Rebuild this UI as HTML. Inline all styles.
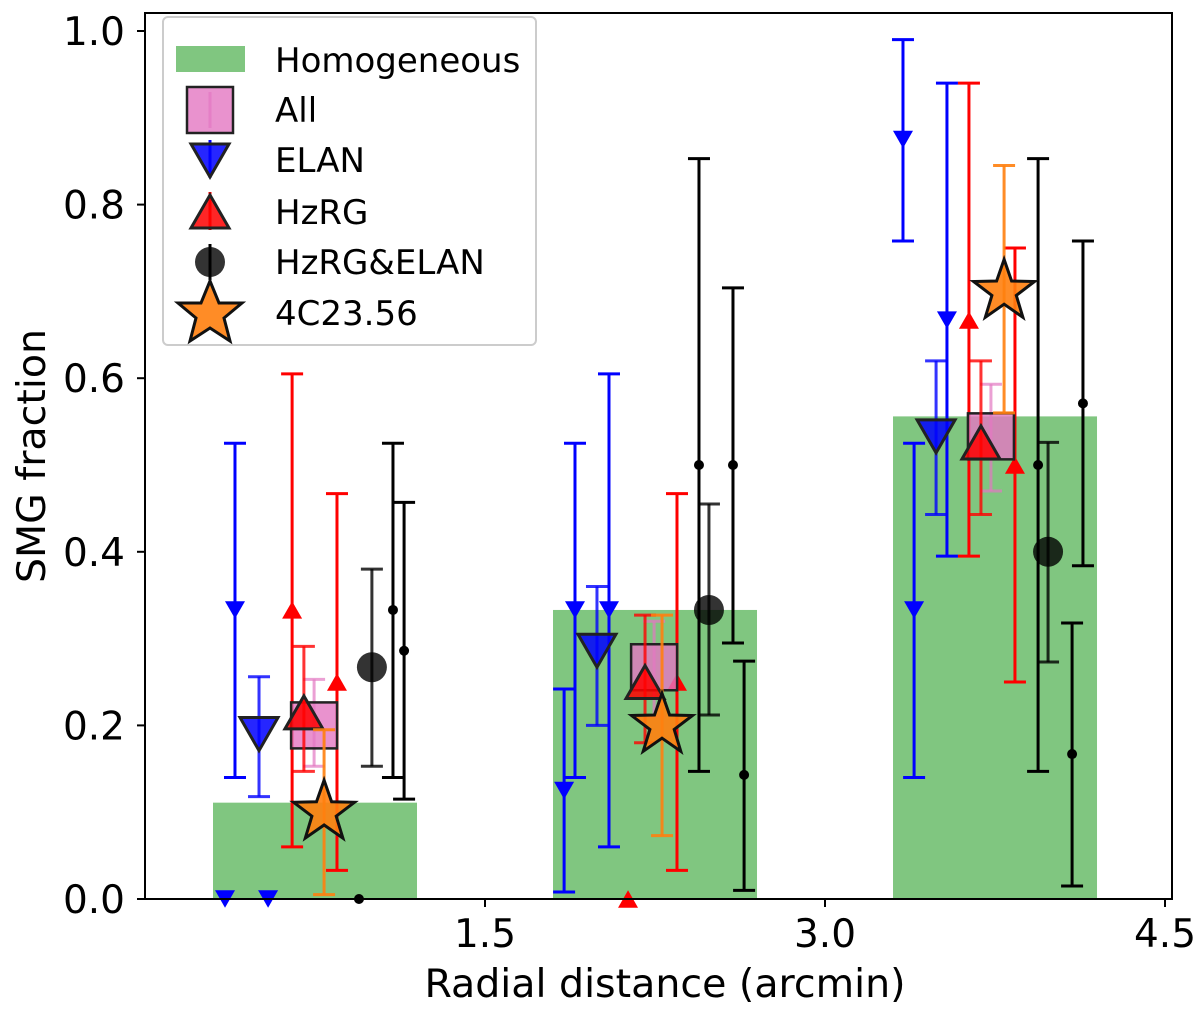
<!DOCTYPE html>
<html><head><meta charset="utf-8"><style>
body{margin:0;background:#fff}
svg{font-family:"DejaVu Sans","Liberation Sans",sans-serif}
</style></head><body>
<svg id="chart" width="1200" height="1014" viewBox="0 0 1200 1014"></svg>
<script>
// ---- data ----
const barCenters=[0.75,2.25,3.75];
const barHeights=[0.111,0.333,0.556];
const barWidth=0.9;
const elanX=[0.353,0.397,0.543,1.849,1.897,2.047,3.344,3.393,3.538];
const elanY=[0,0.333,0,0.125,0.333,0.333,0.875,0.333,0.667];
const elanLo=[null,0.14,null,0.008,0.14,0.06,0.758,0.14,0.395];
const elanHi=[null,0.525,null,0.242,0.525,0.605,0.99,0.525,0.94];
const hzrgX=[0.649,0.847,2.131,2.347,3.635,3.838];
const hzrgY=[0.333,0.25,0,0.25,0.667,0.5];
const hzrgLo=[0.06,0.033,null,0.033,0.395,0.25];
const hzrgHi=[0.605,0.467,null,0.467,0.94,0.75];
const bothX=[0.944,1.094,1.143,2.444,2.594,2.643,3.940,4.090,4.138];
const bothY=[0,0.333,0.286,0.5,0.5,0.143,0.5,0.167,0.571];
const bothLo=[null,0.14,0.115,0.147,0.295,0.01,0.147,0.015,0.384];
const bothHi=[null,0.525,0.457,0.853,0.704,0.274,0.853,0.318,0.758];
const elanAvgX=[0.503,1.994,3.490], elanAvgY=[0.19,0.286,0.533], elanAvgLo=[0.118,0.2,0.443], elanAvgHi=[0.256,0.36,0.62];
const hzrgAvgX=[0.701,2.206,3.688], hzrgAvgY=[0.215,0.25,0.526], hzrgAvgLo=[0.147,0.18,0.443], hzrgAvgHi=[0.291,0.327,0.62];
const allX=[0.746,2.246,3.732], allY=[0.2,0.267,0.533], allLo=[0.153,0.21,0.47], allHi=[0.253,0.32,0.593];
const bothAvgX=[1.001,2.488,3.984], bothAvgY=[0.267,0.333,0.4], bothAvgLo=[0.153,0.212,0.273], bothAvgHi=[0.38,0.455,0.526];
const starX=[0.790,2.281,3.790], starY=[0.1,0.2,0.7], starLo=[0.005,0.073,0.56], starHi=[0.195,0.327,0.845];
const xTicks=[1.5,3.0,4.5], xTickLabels=["1.5","3.0","4.5"];
const yTicks=[0,0.2,0.4,0.6,0.8,1.0], yTickLabels=["0.0","0.2","0.4","0.6","0.8","1.0"];

// ---- scales ----
const L=145,R=1172,T=13,B=899;
const sx=v=>L+v*226.67;
const sy=v=>B-v*868;
const svg=document.getElementById('chart');
const NS='http://www.w3.org/2000/svg';
function mk(tag,attrs,parent){const e=document.createElementNS(NS,tag);for(const k in attrs)e.setAttribute(k,attrs[k]);(parent||svg).appendChild(e);return e;}

const plot=mk('g',{});



barCenters.forEach((c,i)=>{
  const r=mk('rect',{x:sx(c-barWidth/2),y:sy(barHeights[i]),width:sx(c+barWidth/2)-sx(c-barWidth/2),height:sy(0)-sy(barHeights[i]),fill:'#2ca02c','fill-opacity':0.6},plot);
  
  
});

function errbar(g,x,lo,hi,color,op){
  if(lo===null)return;
  const X=sx(x);
  mk('line',{x1:X,x2:X,y1:sy(lo),y2:sy(hi),stroke:color,'stroke-width':3,'stroke-opacity':op},g);
  mk('line',{x1:X-11,x2:X+11,y1:sy(lo),y2:sy(lo),stroke:color,'stroke-width':3,'stroke-opacity':op},g);
  mk('line',{x1:X-11,x2:X+11,y1:sy(hi),y2:sy(hi),stroke:color,'stroke-width':3,'stroke-opacity':op},g);
}
function tri(g,x,y,s,down,fill,stroke,op){
  const X=sx(x),Y=sy(y);const h=s*0.87;
  const pts=down?`${X-s/2},${Y-h/2} ${X+s/2},${Y-h/2} ${X},${Y+h/2}`:`${X-s/2},${Y+h/2} ${X+s/2},${Y+h/2} ${X},${Y-h/2}`;
  mk('polygon',{points:pts,fill:fill,'fill-opacity':op,stroke:stroke||'none','stroke-width':stroke?3:0},g);
}
function star(g,X,Y,r,op){
  let p=[];for(let k=0;k<10;k++){const a=-Math.PI/2+k*Math.PI/5;const rr=k%2?r*0.4:r;p.push((X+rr*Math.cos(a)).toFixed(1)+','+(Y+rr*Math.sin(a)).toFixed(1));}
  mk('polygon',{points:p.join(' '),fill:'#ff7f0e','fill-opacity':op,stroke:'#111','stroke-width':3},g);
}
function series(name,xs,ys,los,his,color,draw){
  xs.forEach((x,i)=>{
    const g=mk('g',{},plot);
    
    
    errbar(g,x,los[i],his[i],color,draw.op||1);
    draw(g,x,ys[i]);
  });
}
series('elan-point',elanX,elanY,elanLo,elanHi,'#0000ff',(g,x,y)=>tri(g,x,y,20,true,'#0000ff',null,1));
series('hzrg-point',hzrgX,hzrgY,hzrgLo,hzrgHi,'#ff0000',(g,x,y)=>tri(g,x,y,20,false,'#ff0000',null,1));
series('hzrg-elan-point',bothX,bothY,bothLo,bothHi,'#000',(g,x,y)=>mk('circle',{cx:sx(x),cy:sy(y),r:5,fill:'#000'},g));
const d1=(g,x,y)=>tri(g,x,y,38,true,'#0000ff','#222',0.85);d1.op=0.8;
series('elan-average',elanAvgX,elanAvgY,elanAvgLo,elanAvgHi,'#0000ff',d1);
const d4=(g,x,y)=>mk('circle',{cx:sx(x),cy:sy(y),r:15,fill:'#000','fill-opacity':0.8},g);d4.op=0.8;
series('hzrg-elan-average',bothAvgX,bothAvgY,bothAvgLo,bothAvgHi,'#000',d4);
const d3=(g,x,y)=>mk('rect',{x:sx(x)-23,y:sy(y)-23,width:46,height:46,fill:'#e377c2','fill-opacity':0.8,stroke:'#222','stroke-width':2.5},g);d3.op=0.7;
series('all-average',allX,allY,allLo,allHi,'#e377c2',d3);
const d2=(g,x,y)=>tri(g,x,y,38,false,'#ff0000','#222',0.85);d2.op=0.8;
series('hzrg-average',hzrgAvgX,hzrgAvgY,hzrgAvgLo,hzrgAvgHi,'#ff0000',d2);
const d5=(g,x,y)=>star(g,sx(x),sy(y),32,0.9);d5.op=0.9;
series('4c23-56-point',starX,starY,starLo,starHi,'#ff7f0e',d5);

const ax=mk('rect',{x:L,y:T,width:R-L,height:B-T,fill:'none',stroke:'#000','stroke-width':2});


yTicks.forEach((v,i)=>{
  mk('line',{x1:L-8,x2:L,y1:sy(v),y2:sy(v),stroke:'#000','stroke-width':2});
  const t=mk('text',{x:L-20,y:sy(v)+14,'text-anchor':'end','font-size':39});t.textContent=yTickLabels[i];
  
  
});
xTicks.forEach((v,i)=>{
  mk('line',{x1:sx(v),x2:sx(v),y1:B,y2:B+8,stroke:'#000','stroke-width':2});
  const t=mk('text',{x:sx(v),y:B+48,'text-anchor':'middle','font-size':39});t.textContent=xTickLabels[i];
  
  
});
</script>
<svg width="1200" height="1014" style="position:absolute;left:0;top:0">
<text x="665" y="997" text-anchor="middle" font-size="39.5" font-family="DejaVu Sans, sans-serif">Radial distance (arcmin)</text>
<text transform="translate(45,456) rotate(-90)" text-anchor="middle" font-size="39.5" font-family="DejaVu Sans, sans-serif">SMG fraction</text>
<g font-family="DejaVu Sans, sans-serif" font-size="34">
<rect x="163" y="17" width="373" height="328" rx="5" fill="#fff" fill-opacity="0.8" stroke="#ccc" stroke-width="2"/>
<rect x="176" y="46" width="69" height="26" fill="#2ca02c" fill-opacity="0.6"/>
<text x="275" y="72">Homogeneous</text>
<line x1="210" y1="92" x2="210" y2="128" stroke="#e377c2" stroke-width="3" stroke-opacity="0.7"/>
<rect x="187" y="87" width="46" height="46" fill="#e377c2" fill-opacity="0.8" stroke="#222" stroke-width="2.5"/>
<text x="275" y="122">All</text>
<line x1="210" y1="140" x2="210" y2="178" stroke="#0000ff" stroke-width="3"/>
<polygon points="191,144 229,144 210,177" fill="#0000ff" fill-opacity="0.85" stroke="#222" stroke-width="3"/>
<text x="275" y="172">ELAN</text>
<line x1="210" y1="192" x2="210" y2="230" stroke="#ff0000" stroke-width="3"/>
<polygon points="191,228 229,228 210,195" fill="#ff0000" fill-opacity="0.85" stroke="#222" stroke-width="3"/>
<text x="275" y="224">HzRG</text>
<line x1="210" y1="244" x2="210" y2="280" stroke="#000" stroke-width="3"/>
<circle cx="210" cy="262" r="15" fill="#000" fill-opacity="0.8"/>
<text x="275" y="274">HzRG&amp;ELAN</text>
<polygon points="210,281 219,303 242,303 224,318 230,341 210,328 190,341 196,318 178,303 201,303" fill="#ff7f0e" fill-opacity="0.9" stroke="#111" stroke-width="3"/>
<text x="275" y="325">4C23.56</text>
</g>
</svg>
</body></html>
